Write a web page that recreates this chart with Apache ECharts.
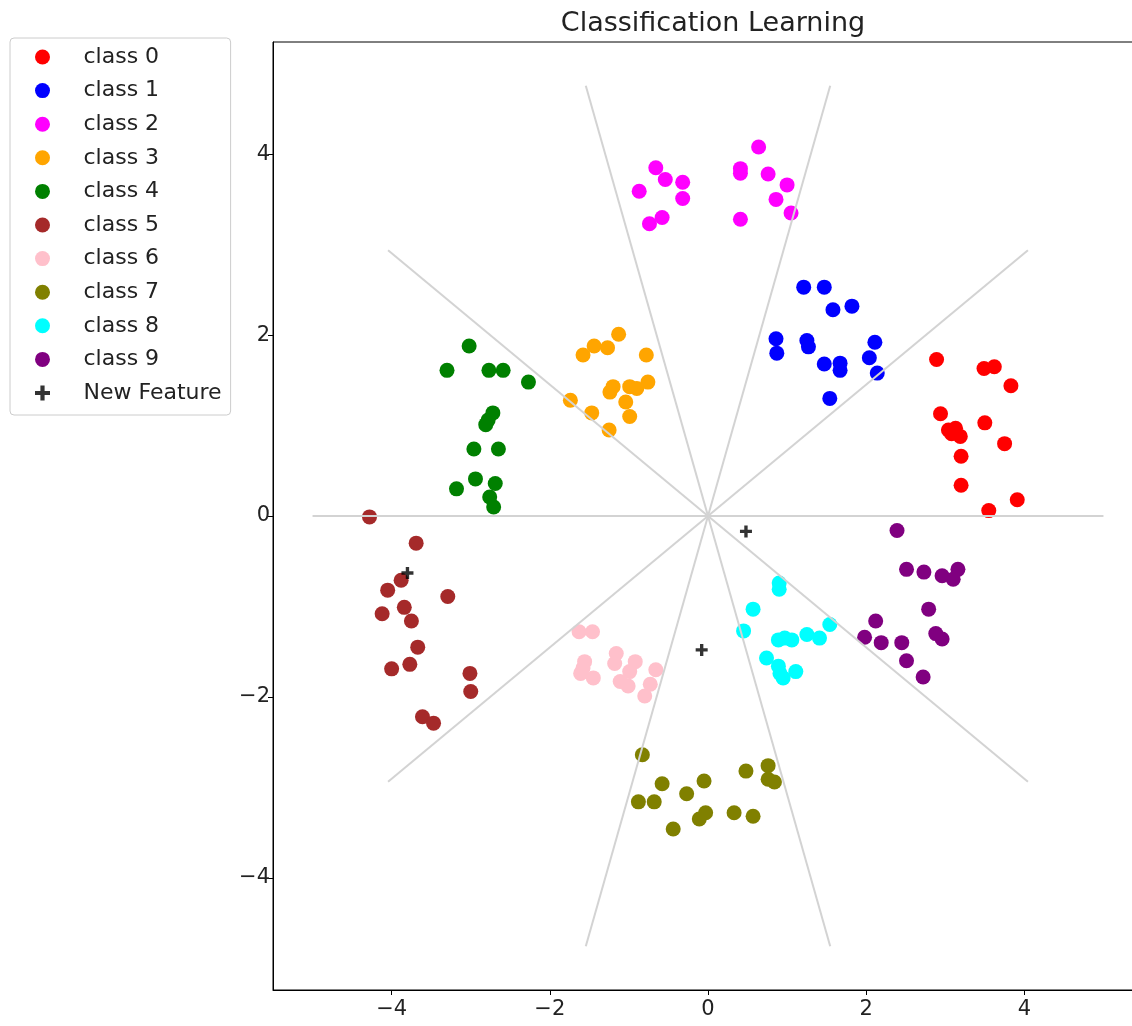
<!DOCTYPE html>
<html><head><meta charset="utf-8">
<script src="https://cdn.jsdelivr.net/npm/echarts@6/dist/echarts.min.js"></script>
<style>html,body{margin:0;padding:0;background:#fff;overflow:hidden;width:1132px;height:1026px}#c{width:1143px;height:1026px}</style>
</head><body><div id="c"></div>
<script>
const classNames = ['class 0','class 1','class 2','class 3','class 4','class 5','class 6','class 7','class 8','class 9'];
const classColors = ['#ff0000','#0000ff','#ff00ff','#ffa500','#008000','#a52a2a','#ffc0cb','#808000','#00ffff','#800080'];
const class0 = [[2.89,1.73],[3.49,1.63],[3.62,1.65],[3.83,1.44],[2.94,1.13],[3.50,1.03],[3.04,0.95],[3.13,0.97],[3.19,0.88],[3.08,0.91],[3.75,0.80],[3.20,0.66],[3.20,0.34],[3.91,0.18],[3.55,0.06]];
const class1 = [[1.21,2.53],[1.47,2.53],[1.58,2.28],[1.82,2.32],[0.86,1.96],[0.87,1.80],[1.25,1.94],[1.27,1.87],[2.11,1.92],[2.04,1.75],[1.47,1.68],[1.67,1.69],[1.67,1.61],[2.14,1.58],[1.54,1.30]];
const class2 = [[-0.66,3.85],[-0.54,3.72],[-0.32,3.69],[-0.32,3.51],[-0.87,3.59],[-0.58,3.30],[-0.74,3.23],[0.64,4.08],[0.41,3.84],[0.41,3.79],[0.76,3.78],[1.00,3.66],[0.86,3.50],[1.05,3.35],[0.41,3.28]];
const class3 = [[-1.13,2.01],[-1.44,1.88],[-1.27,1.86],[-1.58,1.78],[-0.78,1.78],[-1.20,1.43],[-1.24,1.37],[-0.99,1.43],[-0.90,1.41],[-0.76,1.48],[-1.04,1.26],[-1.74,1.28],[-1.47,1.14],[-0.99,1.10],[-1.25,0.95]];
const class4 = [[-3.02,1.88],[-3.30,1.61],[-2.77,1.61],[-2.59,1.61],[-2.27,1.48],[-2.72,1.14],[-2.78,1.06],[-2.81,1.01],[-2.96,0.74],[-2.65,0.74],[-2.94,0.41],[-3.18,0.30],[-2.69,0.36],[-2.76,0.21],[-2.71,0.10]];
const class5 = [[-4.28,-0.01],[-3.69,-0.30],[-3.88,-0.71],[-4.05,-0.82],[-3.29,-0.89],[-3.84,-1.01],[-4.12,-1.08],[-3.75,-1.16],[-3.67,-1.45],[-3.77,-1.64],[-4.00,-1.69],[-3.01,-1.74],[-3.00,-1.94],[-3.61,-2.22],[-3.47,-2.29]];
const class6 = [[-1.63,-1.28],[-1.46,-1.28],[-1.16,-1.52],[-1.18,-1.63],[-0.92,-1.61],[-1.56,-1.61],[-1.61,-1.74],[-1.45,-1.79],[-0.99,-1.72],[-1.11,-1.83],[-1.01,-1.88],[-0.66,-1.70],[-0.73,-1.86],[-0.80,-1.99],[-1.58,-1.68]];
const class7 = [[-0.83,-2.64],[-0.58,-2.96],[-0.88,-3.16],[-0.68,-3.16],[-0.27,-3.07],[-0.05,-2.93],[0.48,-2.82],[0.76,-2.76],[0.76,-2.91],[0.84,-2.94],[-0.03,-3.28],[-0.11,-3.35],[0.33,-3.28],[0.57,-3.32],[-0.44,-3.46]];
const class8 = [[0.90,-0.74],[0.90,-0.81],[0.57,-1.03],[0.45,-1.27],[1.54,-1.20],[1.25,-1.31],[1.41,-1.35],[0.89,-1.37],[0.97,-1.35],[1.06,-1.37],[0.74,-1.57],[0.89,-1.66],[1.11,-1.72],[0.95,-1.79],[0.91,-1.74]];
const class9 = [[2.39,-0.16],[2.51,-0.59],[2.73,-0.62],[2.96,-0.66],[3.16,-0.59],[3.10,-0.70],[2.79,-1.03],[2.12,-1.16],[2.88,-1.30],[2.96,-1.36],[1.98,-1.34],[2.19,-1.40],[2.45,-1.40],[2.51,-1.60],[2.72,-1.78]];
const newFeature = [[0.48,-0.17],[-0.08,-1.48],[-3.80,-0.63]];
const spokeAngles = [0,36,72,108,144,180,216,252,288,324];
const spokeLength = 5;
const xTicks = [-4,-2,0,2,4];
const yTicks = [-4,-2,0,2,4];

const classData = [class0,class1,class2,class3,class4,class5,class6,class7,class8,class9];
const plusPath = 'path://M3.6,0H6.4V3.6H10V6.4H6.4V10H3.6V6.4H0V3.6H3.6Z';
const fmt = v => String(v).replace('-', '\u2212');
const FONT = 'DejaVu Sans';

const series = [];
classData.forEach((d, i) => {
  series.push({
    name: classNames[i], type: 'scatter', data: d, symbol: 'circle', symbolSize: 15,
    itemStyle: { color: classColors[i], opacity: 1 }, z: 2, silent: true
  });
});
series.push({
  name: 'New Feature', type: 'scatter', data: newFeature, symbol: plusPath, symbolSize: 12,
  itemStyle: { color: '#000' }, z: 4, silent: true
});
spokeAngles.forEach(a => {
  const r = a * Math.PI / 180;
  series.push({
    type: 'line', data: [[0, 0], [spokeLength * Math.cos(r), spokeLength * Math.sin(r)]],
    symbol: 'none', lineStyle: { color: '#d3d3d3', width: 2 }, z: 3, silent: true, animation: false
  });
});

const chart = echarts.init(document.getElementById('c'), null, { renderer: 'canvas' });
chart.setOption({
  animation: false,
  backgroundColor: '#fff',
  title: {
    text: 'Classification Learning', left: 708, top: 5, textAlign: 'center',
    textStyle: { fontFamily: FONT, fontSize: 27, fontWeight: 'normal', color: '#222' }
  },
  legend: {
    orient: 'vertical', left: 10, top: 38,
    padding: [8, 9, 11, 25],
    itemWidth: 50, itemHeight: 15, itemGap: 11.6,
    borderColor: '#cccccc', borderWidth: 1, borderRadius: 4,
    backgroundColor: '#fff',
    data: classNames.map(n => ({ name: n, icon: 'circle' })).concat([{ name: 'New Feature', icon: plusPath }]),
    textStyle: { fontFamily: FONT, fontSize: 22, color: '#222', padding: [0, 0, 0, 11] },
    selectedMode: false
  },
  grid: { left: 273, top: 42, right: 0, bottom: 36, show: true, borderColor: '#000', borderWidth: 1, containLabel: false },
  xAxis: {
    type: 'value', min: -5.5, max: 5.5,
    axisLine: { show: true, onZero: false, lineStyle: { color: '#000', width: 1 } },
    axisTick: { show: true, length: 5, inside: false, customValues: xTicks, lineStyle: { color: '#000' } },
    axisLabel: { customValues: xTicks, formatter: fmt, fontFamily: FONT, fontSize: 21, color: '#222', margin: 9 },
    splitLine: { show: false }
  },
  yAxis: {
    type: 'value', min: -5.24, max: 5.24,
    axisLine: { show: true, onZero: false, lineStyle: { color: '#000', width: 1 } },
    axisTick: { show: true, length: 5, inside: false, customValues: yTicks, lineStyle: { color: '#000' } },
    axisLabel: { customValues: yTicks, formatter: fmt, fontFamily: FONT, fontSize: 21, color: '#222', margin: 3 },
    splitLine: { show: false }
  },
  series: series
});
</script></body></html>
